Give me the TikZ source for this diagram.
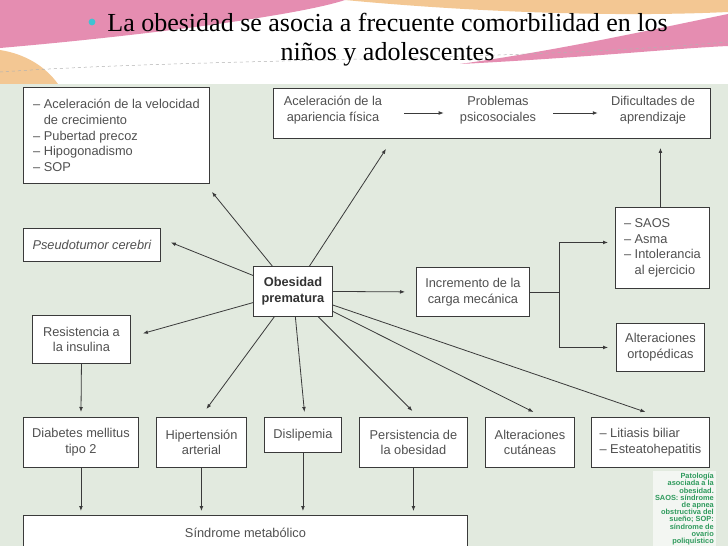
\documentclass[tikz,border=0pt]{standalone}
\usepackage{fontspec}
\setmainfont{Liberation Serif}
\setsansfont{Liberation Sans}
\usetikzlibrary{arrows.meta,calc}

\definecolor{bggreen}{HTML}{E2EADF}
\definecolor{txtgray}{HTML}{505050}
\definecolor{txtdark}{HTML}{333333}
\definecolor{linegray}{HTML}{3A3A3A}
\definecolor{capgreen}{HTML}{2E9A5C}
\definecolor{rose}{HTML}{E58DB1}
\definecolor{peach}{HTML}{F3C793}
\definecolor{bulletc}{HTML}{3EC3D3}

\newcommand\boxfont{\sffamily\fontsize{12.8}{15.7}\selectfont}

\begin{document}
\begin{tikzpicture}[x=1pt,y=-1pt,
  box/.style={draw=linegray, line width=0.9pt, fill=white, inner sep=0pt,
    font=\boxfont, text=txtgray, align=center, anchor=north west},
  plaintext/.style={inner sep=0pt, font=\boxfont, text=txtgray, align=center},
  arr/.style={draw=linegray, line width=0.8pt, -{Latex[length=5pt,width=3.8pt]}},
  plainline/.style={draw=linegray, line width=0.8pt},
]
\useasboundingbox (0,0) rectangle (728,546);
\clip (0,0) rectangle (728,546);

% ---------- header ----------
\fill[white] (0,0) rectangle (728,84);
\fill[rose] (0,0) -- (345,0) .. controls (300,15) and (150,35) .. (0,48) -- cycle;
\fill[peach] (345,0) -- (728,0) -- (728,12) .. controls (600,18) and (450,10) .. (345,0) -- cycle;
\fill[rose] (728,14) .. controls (650,30) and (560,50) .. (460,64)
  .. controls (580,58) and (680,48) .. (728,46) -- cycle;
\fill[peach] (0,50) .. controls (25,54) and (45,66) .. (58,84) -- (0,84) -- cycle;
\draw[dashed, gray!60, line width=0.5pt] (0,72) .. controls (200,58) and (500,62) .. (728,42);

\fill[bulletc] (92,22) circle (3.4);
\node[anchor=base, inner sep=0pt, font=\rmfamily\fontsize{26}{29}\selectfont] (title1) at (387.5,31)
  {La obesidad se asocia a frecuente comorbilidad en los};
\node[anchor=base, inner sep=0pt, font=\rmfamily\fontsize{26}{29}\selectfont] (title2) at (387.5,60)
  {niños y adolescentes};

% ---------- diagram background ----------
\fill[bggreen] (0,84) rectangle (728,546);

% ---------- boxes ----------
\node[box, minimum width=186pt, minimum height=96pt, align=left] (endo) at (23,87)
  {– Aceleración de la velocidad\\\phantom{– }de crecimiento\\– Pubertad precoz\\– Hipogonadismo\\– SOP};

\node[box, minimum width=437pt, minimum height=50pt] (psy) at (273,88) {};
\node[plaintext] (apar) at (333,110) {Aceleración de la\\apariencia física};
\node[plaintext] (prob) at (498,110) {Problemas\\psicosociales};
\node[plaintext] (difi) at (653,110) {Dificultades de\\aprendizaje};

\node[box, minimum width=137pt, minimum height=33pt, font=\boxfont\itshape] (pseudo) at (23,228)
  {Pseudotumor cerebri};

\node[box, minimum width=79pt, minimum height=50pt, font=\boxfont\bfseries, text=txtdark] (ob) at (253,266)
  {Obesidad\\prematura};

\node[box, minimum width=113pt, minimum height=49pt] (inc) at (416,267)
  {Incremento de la\\carga mecánica};

\node[box, minimum width=94pt, minimum height=81pt, align=left] (saos) at (615,207)
  {– SAOS\\– Asma\\– Intolerancia\\\phantom{– }al ejercicio};

\node[box, minimum width=88pt, minimum height=48pt] (orto) at (616,323)
  {Alteraciones\\ortopédicas};

\node[box, minimum width=98pt, minimum height=48pt] (res) at (32,315)
  {Resistencia a\\la insulina};

\node[box, minimum width=115pt, minimum height=50pt] (dm) at (23,417) {Diabetes mellitus\\tipo 2};
\node[box, minimum width=90pt, minimum height=50pt] (hta) at (156,417) {Hipertensión\\arterial};
\node[box, minimum width=77pt, minimum height=35pt] (dis) at (264,417) {Dislipemia};
\node[box, minimum width=108pt, minimum height=50pt] (per) at (359,417) {Persistencia de\\la obesidad};
\node[box, minimum width=89pt, minimum height=50pt] (cut) at (485,417) {Alteraciones\\cutáneas};
\node[box, minimum width=118pt, minimum height=50pt, align=left] (lit) at (591,417)
  {– Litiasis biliar\\– Esteatohepatitis};

\node[box, minimum width=444pt, minimum height=34pt] (sm) at (23,515) {Síndrome metabólico};

% ---------- caption ----------
\node[anchor=north east, fill=white, fill opacity=0.6, text opacity=1, inner sep=2pt,
  align=right, text=capgreen, font=\sffamily\bfseries\fontsize{7.4}{7.2}\selectfont] (cap) at (716,471)
  {Patología\\asociada a la\\obesidad.\\SAOS: síndrome\\de apnea\\obstructiva del\\sueño; SOP:\\síndrome de\\ovario\\poliquístico};

% ---------- connectors ----------
\draw[arr, shorten <=22pt, shorten >=16pt] ([yshift=-3pt]apar.east) -- ([yshift=-3pt]prob.west);
\draw[arr, shorten <=17pt, shorten >=13pt] ([yshift=-3pt]prob.east) -- ([yshift=-3pt]difi.west);

\coordinate (tEndo)   at ($(endo.south east)+(2,8)$);
\coordinate (tPsy)    at ($(psy.south west)+(113,10)$);
\coordinate (tPseudo) at ($(pseudo.east)+(10,-2.5)$);
\coordinate (tRes)    at ($(res.east)+(12,-6)$);
\coordinate (tHta)    at ($(hta.north)+(5,-8)$);
\coordinate (tDis)    at ($(dis.north)+(1.5,-5)$);
\coordinate (tPer)    at ($(per.north)+(-1,-6)$);
\coordinate (tCut)    at ($(cut.north)+(3.5,-5)$);
\coordinate (tLit)    at ($(lit.north)+(-5,-5)$);

\foreach \t in {tEndo,tPsy,tPseudo,tRes,tHta,tDis,tPer,tCut,tLit}
  \draw[arr] (ob) -- (\t);

\draw[arr, shorten >=11pt] (ob.east) -- (inc.west);

\coordinate (junc) at ($(inc.east)+(29,0)$);
\draw[plainline] (inc.east) -- (junc);
\draw[arr, shorten >=7pt] (junc) |- ([yshift=5.5pt]saos.west);
\draw[arr, shorten >=8pt] (junc) |- (orto.west);

\draw[arr, shorten >=9pt] ([xshift=-2pt]saos.north) -- ([xshift=-2pt]saos.north |- psy.south);

\draw[arr, shorten >=5pt] (res.south) -- (dm.north);

\draw[arr, shorten >=4pt] (dm.south)  -- (dm.south  |- sm.north);
\draw[arr, shorten >=4pt] (hta.south) -- (hta.south |- sm.north);
\draw[arr, shorten >=4pt] (dis.south) -- (dis.south |- sm.north);
\draw[arr, shorten >=4pt] (per.south) -- (per.south |- sm.north);
\end{tikzpicture}
\end{document}
